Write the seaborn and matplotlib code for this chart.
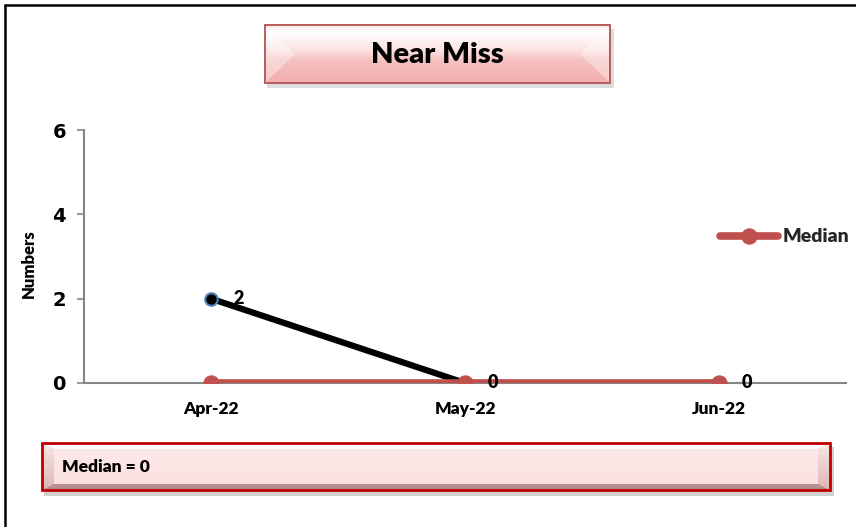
import numpy as np
import pandas as pd
import seaborn as sns
import matplotlib.pyplot as plt
from matplotlib.patches import Rectangle, Polygon
from matplotlib.colors import LinearSegmentedColormap

months = ["Apr-22", "May-22", "Jun-22"]
near_miss = [2, 0, 0]
median = [0, 0, 0]
y_ticks = [0, 2, 4, 6]
title_text = "Near Miss"
median_text = "Median = 0"

sns.set_theme(style="white")
plt.rcParams['font.family'] = ['Lato', 'DejaVu Sans']

fig = plt.figure(figsize=(8.56, 5.27), dpi=100)
fig.patch.set_facecolor('white')

# background layer in pixel units for the boxes and frame
bg = fig.add_axes([0, 0, 1, 1], zorder=0)
bg.axis('off')


def grad_rect(x0, y0, x1, y1, stops, z=2):
    cmap = LinearSegmentedColormap.from_list('g', stops)
    g = np.linspace(0, 1, 128)[:, None]
    bg.imshow(g, cmap=cmap, extent=(x0, x1, y1, y0), aspect='auto',
              origin='upper', interpolation='bilinear', zorder=z)


# title box: soft convex bevel
tx0, ty0, tx1, ty1 = 265, 25, 610, 83
bg.add_patch(Rectangle((tx0 + 2, ty0 + 4), tx1 - tx0 + 2, ty1 - ty0 + 1,
                       fc='#a0a0a0', ec='none', alpha=0.35, zorder=1))
grad_rect(tx0, ty0, tx1, ty1, [(0, '#fde9e9'), (0.12, '#ffffff'),
                                (0.42, '#fde4e4'), (0.6, '#f6c2c2'),
                                (1, '#f2aeae')])
ym = (ty0 + ty1) / 2
bg.add_patch(Polygon([(tx0, ty0), (tx0 + 30, ym), (tx0, ty1)], fc='#ffffff',
                     ec='none', alpha=0.35, zorder=3))
bg.add_patch(Polygon([(tx1, ty0), (tx1 - 30, ym), (tx1, ty1)], fc='#ffffff',
                     ec='none', alpha=0.35, zorder=3))
bg.add_patch(Rectangle((tx0, ty0), tx1 - tx0, ty1 - ty0, fc='none',
                       ec='#b85c5c', lw=1.4, zorder=5))
bg.text((tx0 + tx1) / 2, 55, title_text, ha='center', va='center',
        fontsize=21, fontweight='heavy', color='black', zorder=6)

# median box: flat bevel
mx0, my0, mx1, my1 = 42, 443, 830, 490
dx, dy = 12, 6
bg.add_patch(Rectangle((mx0 + 2, my0 + 4), mx1 - mx0 + 2, my1 - my0 + 2,
                       fc='#9a9a9a', ec='none', alpha=0.45, zorder=1))
grad_rect(mx0, my0, mx1, my1, ['#ffffff', '#c89898'])
ix0, iy0, ix1, iy1 = mx0 + dx, my0 + dy, mx1 - dx, my1 - dy
bg.add_patch(Polygon([(mx0, my0), (mx1, my0), (ix1, iy0), (ix0, iy0)],
                     fc='#ffffff', ec='none', alpha=0.7, zorder=3))
bg.add_patch(Polygon([(mx0, my1), (mx1, my1), (ix1, iy1), (ix0, iy1)],
                     fc='#b08888', ec='none', alpha=0.7, zorder=3))
bg.add_patch(Polygon([(mx0, my0), (ix0, iy0), (ix0, iy1), (mx0, my1)],
                     fc='#f2d0d0', ec='none', alpha=0.5, zorder=3))
bg.add_patch(Polygon([(mx1, my0), (ix1, iy0), (ix1, iy1), (mx1, my1)],
                     fc='#f2d0d0', ec='none', alpha=0.5, zorder=3))
grad_rect(ix0, iy0, ix1, iy1, ['#fde8e8', '#fbe1e1'], z=4)
bg.add_patch(Rectangle((mx0, my0), mx1 - mx0, my1 - my0, fc='none',
                       ec='#c00000', lw=2, zorder=5))
bg.text(62, 467, median_text, ha='left', va='center', fontsize=12.5,
        fontweight='heavy', color='black', zorder=6)

# outer frame (top and left only)
bg.plot([5, 856], [5, 5], color='black', lw=1.8, zorder=6)
bg.plot([5, 5], [5, 527], color='black', lw=1.8, zorder=6)

bg.set_xlim(0, 856)
bg.set_ylim(527, 0)

# main chart
ax = fig.add_axes([84 / 856, 1 - 383 / 527, (846 - 84) / 856, (383 - 130) / 527],
                  zorder=2)
ax.patch.set_alpha(0)

df = pd.DataFrame({'x': np.arange(len(months)), 'month': months,
                   'Near Miss': near_miss, 'Median': median})

sns.lineplot(data=df, x='x', y='Near Miss', ax=ax, color='black', lw=4.5,
             marker='o', markersize=9, markerfacecolor='black',
             markeredgecolor='#4f81bd', markeredgewidth=1.5, zorder=3)
sns.lineplot(data=df, x='x', y='Median', ax=ax, color='#c0504d', lw=5.5,
             marker='o', markersize=11, markerfacecolor='#c0504d',
             markeredgecolor='#c0504d', zorder=4, label='Median')

for i, v in enumerate(near_miss):
    ax.annotate(str(v), (i, v), xytext=(20, 0), textcoords='offset points',
                ha='center', va='center', fontsize=13, fontweight='heavy',
                color='black', zorder=5)

ax.set_xlim(-0.5, 2.5)
ax.set_ylim(0, 6)
ax.set_xticks(df['x'])
ax.set_xticklabels(months, fontsize=12.5, fontweight='heavy')
ax.set_yticks(y_ticks)
ax.set_yticklabels([str(t) for t in y_ticks], family='DejaVu Sans',
                   fontsize=14, fontweight='bold')
ax.tick_params(axis='x', length=0, pad=13, colors='black')
ax.tick_params(axis='y', direction='out', length=5, width=1.2,
               color='#868686', pad=8, labelcolor='black', left=True)
ax.set_xlabel('')
ax.set_ylabel('Numbers', fontsize=12, fontweight='heavy', color='black')
ax.yaxis.set_label_coords(-0.062, 0.47)

for s in ['top', 'right']:
    ax.spines[s].set_visible(False)
for s in ['left', 'bottom']:
    ax.spines[s].set_color('#868686')
    ax.spines[s].set_linewidth(1.5)

ax.get_legend().remove()
med_line = ax.get_lines()[1]
fig.legend(handles=[med_line], labels=['Median'], loc='center left',
           bbox_to_anchor=(720 / 856, 1 - 237 / 527), frameon=False,
           borderpad=0, borderaxespad=0, handlelength=3.0, handletextpad=0.2,
           prop={'weight': 'heavy', 'size': 14})

fig.savefig('out.png', dpi=100)
